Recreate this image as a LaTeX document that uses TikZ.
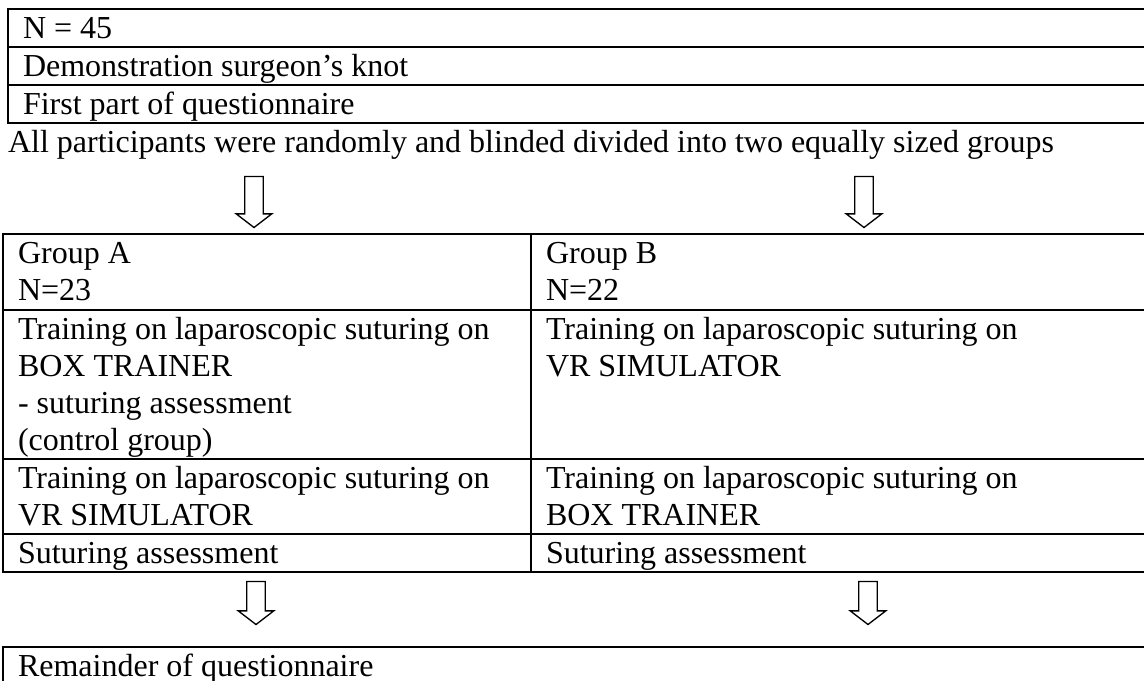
\documentclass[tikz,border=0pt]{standalone}
\usepackage{fontspec}
\setmainfont{Liberation Serif}
\usetikzlibrary{shapes.arrows}

\tikzset{
  txt/.style={anchor=base west, inner sep=0pt, font=\fontsize{12}{13.8}\selectfont},
  downarrow/.style={draw, line width=0.5pt, single arrow, shape border rotate=270,
    inner sep=3.2pt, single arrow head extend=3.2pt, single arrow tip angle=105}
}

\begin{document}
\begin{tikzpicture}[x=0.375pt, y=-0.375pt, line width=0.75pt]
      \useasboundingbox (0,0) rectangle (1144,680);
      \clip (0,0) rectangle (1144,680);

      % first table
      \draw (8,9) rectangle (1170,123);
      \draw (8,47) -- (1170,47);
      \draw (8,85) -- (1170,85);
      \node[txt] (total) at (22,38) {N = 45};
      \node[txt] (demo) at (22,76) {Demonstration surgeon’s knot};
      \node[txt] (quest1) at (22,114) {First part of questionnaire};

      \node[txt] (random) at (7,152) {All participants were randomly and blinded divided into two equally sized groups};

      \node[downarrow, minimum height=19.1pt] (arrA) at (254,198.5) {};
      \node[downarrow, minimum height=19.1pt] (arrB) at (864,198.5) {};

      % groups table
      \draw (3,234) rectangle (1170,572);
      \draw (3,310) -- (1170,310);
      \draw (3,459) -- (1170,459);
      \draw (3,534) -- (1170,534);
      \draw (531,234) -- (531,572);

      \node[txt] (grpA) at (17,263) {Group A};
      \node[txt] (nA) at (17,300) {N=23};
      \node[txt] (trainA1) at (17,339) {Training on laparoscopic suturing on};
      \node[txt] (boxA) at (17,376) {BOX TRAINER};
      \node[txt] (assessA1) at (17,413) {- suturing assessment};
      \node[txt] (ctrlA) at (17,450) {(control group)};
      \node[txt] (trainA2) at (17,488) {Training on laparoscopic suturing on};
      \node[txt] (vrA) at (17,525) {VR SIMULATOR};
      \node[txt] (assessA2) at (17,563) {Suturing assessment};

      \node[txt] (grpB) at (545,263) {Group B};
      \node[txt] (nB) at (545,300) {N=22};
      \node[txt] (trainB1) at (545,339) {Training on laparoscopic suturing on};
      \node[txt] (vrB) at (545,376) {VR SIMULATOR};
      \node[txt] (trainB2) at (545,488) {Training on laparoscopic suturing on};
      \node[txt] (boxB) at (545,525) {BOX TRAINER};
      \node[txt] (assessB) at (545,563) {Suturing assessment};

      \node[downarrow, minimum height=16.1pt] (arrC) at (256,599.5) {};
      \node[downarrow, minimum height=16.1pt] (arrD) at (868,599.5) {};

      % last table
      \draw (3,647) rectangle (1170,720);
      \node[txt] (quest2) at (17,676) {Remainder of questionnaire};
    \end{tikzpicture}
\end{document}
